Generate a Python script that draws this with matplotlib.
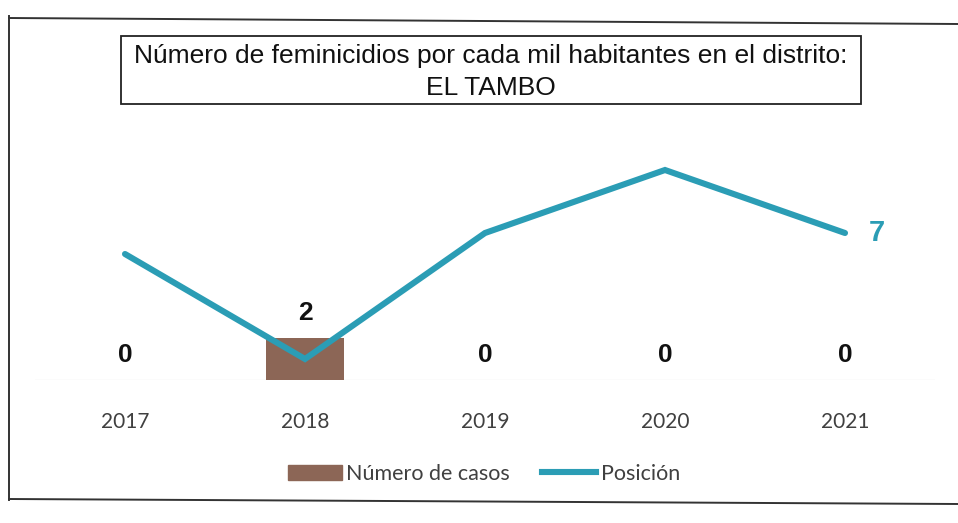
import matplotlib.pyplot as plt
from matplotlib.patches import Rectangle
from matplotlib.lines import Line2D
import numpy as np

years = ['2017', '2018', '2019', '2020', '2021']
casos = [0, 2, 0, 0, 0]
posicion = [6, 1, 7, 10, 7]

bar_color = '#8c6656'
line_color = '#2b9db5'

W, H = 958, 523
fig = plt.figure(figsize=(W / 100, H / 100), dpi=100)


def fx(px):
    return px / W


def fy(py):
    return 1 - py / H


# outer frame of the scanned chart
fig.add_artist(Line2D([fx(9), fx(9)], [fy(16), fy(500)], color='#333333', lw=1.4))
fig.add_artist(Line2D([fx(9), fx(958)], [fy(18), fy(24)], color='#333333', lw=1.4))
fig.add_artist(Line2D([fx(9), fx(958)], [fy(499), fy(504)], color='#333333', lw=1.4))

# title box
fig.add_artist(Rectangle((fx(121), fy(104)), fx(861) - fx(121), fy(36) - fy(104),
                         fill=False, edgecolor='#222222', lw=1.3))
fig.text(fx(491), fy(56), 'Número de feminicidios por cada mil habitantes en el distrito:',
         ha='center', va='center', fontsize=19, family='Liberation Sans', color='#111111')
fig.text(fx(491), fy(88), 'EL TAMBO', ha='center', va='center', fontsize=19,
         family='Liberation Sans', color='#111111')

# plot area: baseline at y=380 px, 21 px per unit
unit = 21
top_val = 12
ax = fig.add_axes([fx(35), fy(380), fx(935) - fx(35), top_val * unit / H])
x = np.arange(len(years))
ax.bar(x, casos, width=0.43, color=bar_color, zorder=2)
ax.plot(x, posicion, color=line_color, lw=4.4, solid_capstyle='round',
        solid_joinstyle='miter', zorder=3)
ax.axhline(0, color='#ebebeb', lw=1, zorder=1)
ax.set_xlim(-0.5, len(years) - 0.5)
ax.set_ylim(0, top_val)
ax.axis('off')

for xi, v in zip(x, casos):
    ax.annotate(str(v), (xi, v), xytext=(0, 9), textcoords='offset points',
                ha='center', va='bottom', fontsize=19, fontweight='bold',
                family='Liberation Sans', color='#111111', zorder=4)

ax.annotate(str(posicion[-1]), (x[-1], posicion[-1]), xytext=(17, 0),
            textcoords='offset points', ha='left', va='center', fontsize=21,
            fontweight='bold', family='Liberation Sans', color=line_color)

for xi, yr in zip(x, years):
    ax.annotate(yr, (xi, 0), xytext=(0, -30), textcoords='offset points',
                ha='center', va='center', fontsize=15, family='Lato',
                color='#404040', annotation_clip=False)

# legend
handles = [Rectangle((0, 0), 1, 1, color=bar_color),
           Line2D([0], [0], color=line_color, lw=4.4)]
fig.legend(handles, ['Número de casos', 'Posición'], loc='center',
           bbox_to_anchor=(fx(484), fy(474)), ncol=2, frameon=False,
           prop={'family': 'Lato', 'size': 15.5}, labelcolor='#404040',
           handlelength=2.5, handletextpad=0.2, columnspacing=1.5)

fig.savefig('out.png', dpi=100, facecolor='white')
